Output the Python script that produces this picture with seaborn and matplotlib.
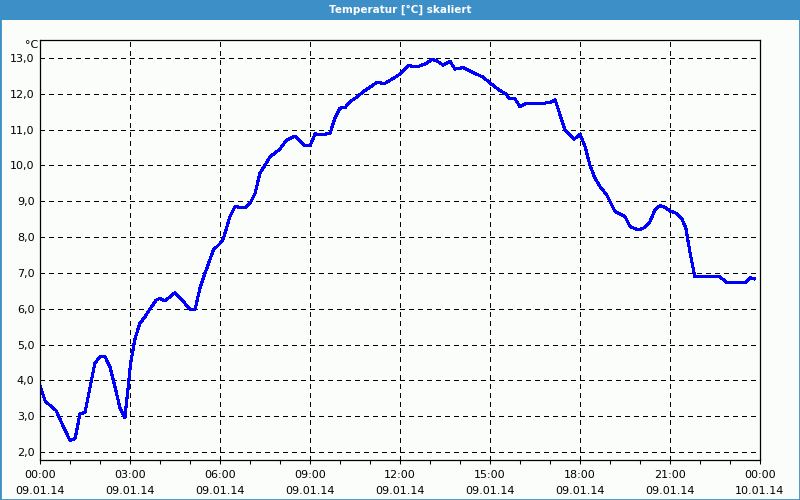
import matplotlib
matplotlib.use("Agg")
import matplotlib.pyplot as plt
from matplotlib.patches import Rectangle
from matplotlib.ticker import MultipleLocator
import seaborn as sns
import pandas as pd

# ---- data (hours since 09.01.14 00:00, temperature in °C) ----
hours = [0.0, 0.17, 0.44, 0.53, 0.78, 1.0, 1.17, 1.33, 1.5, 1.83, 2.0, 2.17, 2.33, 2.5,
         2.67, 2.83, 2.94, 3.02, 3.17, 3.33, 3.5, 3.64, 3.87, 4.0, 4.17, 4.5, 4.78, 5.0,
         5.17, 5.33, 5.5, 5.78, 6.0, 6.11, 6.33, 6.5, 6.83, 7.0, 7.17, 7.33, 7.67, 8.0,
         8.22, 8.5, 8.83, 9.0, 9.17, 9.39, 9.67, 9.83, 10.0, 10.17, 10.33, 10.5, 10.78,
         11.22, 11.5, 11.78, 12.0, 12.28, 12.61, 12.89, 13.06, 13.22, 13.44, 13.67, 13.83,
         14.11, 14.44, 14.78, 15.0, 15.33, 15.5, 15.67, 15.83, 16.0, 16.22, 16.83, 17.0,
         17.17, 17.39, 17.5, 17.8, 18.0, 18.17, 18.33, 18.5, 18.67, 18.89, 19.17, 19.5,
         19.67, 19.94, 20.17, 20.33, 20.5, 20.67, 20.83, 21.0, 21.22, 21.39, 21.53, 21.67,
         21.83, 22.67, 22.89, 23.5, 23.67, 23.83]
temps = [3.85, 3.43, 3.22, 3.17, 2.71, 2.32, 2.38, 3.06, 3.11, 4.48, 4.66, 4.66, 4.38, 3.82,
         3.22, 2.96, 3.82, 4.48, 5.18, 5.59, 5.78, 5.96, 6.24, 6.29, 6.22, 6.45, 6.20, 5.98,
         5.98, 6.57, 6.99, 7.64, 7.82, 7.95, 8.57, 8.85, 8.82, 8.94, 9.22, 9.78, 10.24, 10.46,
         10.71, 10.82, 10.55, 10.55, 10.88, 10.85, 10.90, 11.32, 11.60, 11.61, 11.78, 11.87, 12.06,
         12.31, 12.29, 12.43, 12.55, 12.78, 12.76, 12.85, 12.96, 12.92, 12.80, 12.90, 12.69,
         12.73, 12.59, 12.46, 12.30, 12.09, 12.01, 11.86, 11.86, 11.64, 11.74, 11.74, 11.76,
         11.83, 11.27, 10.99, 10.73, 10.87, 10.52, 10.01, 9.64, 9.41, 9.18, 8.71, 8.57,
         8.29, 8.20, 8.27, 8.43, 8.76, 8.88, 8.83, 8.73, 8.66, 8.52, 8.25, 7.55,
         6.89, 6.89, 6.73, 6.73, 6.87, 6.83]

xtick_pos = [0, 3, 6, 9, 12, 15, 18, 21, 24]
xtick_labels = ["00:00\n09.01.14", "03:00\n09.01.14", "06:00\n09.01.14", "09:00\n09.01.14",
                "12:00\n09.01.14", "15:00\n09.01.14", "18:00\n09.01.14", "21:00\n09.01.14",
                "00:00\n10.01.14"]
ytick_pos = [2, 3, 4, 5, 6, 7, 8, 9, 10, 11, 12, 13]
ytick_labels = ["2,0", "3,0", "4,0", "5,0", "6,0", "7,0", "8,0", "9,0", "10,0", "11,0", "12,0", "13,0"]

title = "Temperatur [°C] skaliert"
unit = "°C"

sns.set_theme(style="white")
plt.rcParams["font.family"] = ["DejaVu Sans"]

BG = "#FBFDFB"
BAR = "#3C8FC7"

fig = plt.figure(figsize=(8, 5), dpi=100, facecolor=BG)
ax = fig.add_axes([40 / 800, 40 / 500, 720 / 800, 420 / 500])
ax.set_facecolor(BG)

df = pd.DataFrame({"h": hours, "t": temps})
sns.lineplot(data=df, x="h", y="t", ax=ax, color="#0000FF", linewidth=1.5,
             estimator=None, sort=False, antialiased=False)

ax.set_xlim(0, 24)
ax.set_ylim(1.78, 13.5)
ax.set_xticks(xtick_pos)
ax.set_xticklabels(xtick_labels, fontsize=8, color="black", linespacing=1.75)
ax.xaxis.set_minor_locator(MultipleLocator(1))
ax.set_yticks(ytick_pos)
ax.set_yticklabels(ytick_labels, fontsize=8, color="black")
ax.tick_params(axis="x", which="both", direction="out", length=3, width=0.75, color="black",
               bottom=True, pad=4)
ax.tick_params(axis="y", which="both", length=0, pad=4)
ax.set_xlabel("")
ax.set_ylabel("")

ax.grid(True, which="major", color="black", linestyle=(0, (4, 4)), linewidth=0.75,
        antialiased=False)
for s in ax.spines.values():
    s.set_visible(True)
    s.set_color("black")
    s.set_linewidth(0.9)

# title bar and frame
fig.patches.append(Rectangle((0, 1 - 20 / 500), 1, 20 / 500, transform=fig.transFigure,
                             facecolor=BAR, edgecolor="none", zorder=0))
fig.patches.append(Rectangle((0, 0), 1, 1, transform=fig.transFigure, fill=False,
                             edgecolor=BAR, linewidth=2, zorder=1))
fig.text(0.5, 1 - 10 / 500, title, color="white", fontsize=7.5, fontweight="bold",
         ha="center", va="center")
fig.text(38 / 800, 1 - 45 / 500, unit, fontsize=8, color="black", ha="right", va="center")

fig.savefig("out.png", dpi=100, facecolor=BG)
